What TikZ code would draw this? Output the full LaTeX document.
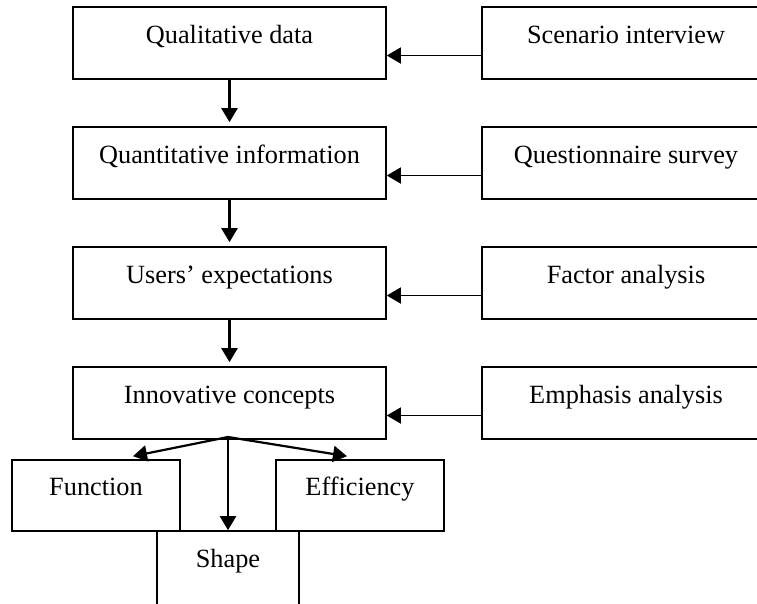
\documentclass[tikz,border=0pt]{standalone}
\usepackage{fontspec}
\setmainfont{Liberation Serif}
\usetikzlibrary{arrows.meta}
\tikzstyle{stage}=[rectangle, draw, line width=1.6pt, minimum width=313pt, minimum height=72pt, text height=10pt, text depth=10pt]
\tikzstyle{method}=[rectangle, draw, line width=1.6pt, minimum width=288pt, minimum height=72pt, text height=10pt, text depth=10pt]
\tikzstyle{aspect}=[rectangle, draw, line width=1.6pt, minimum width=168pt, minimum height=71pt, text height=10pt, text depth=10pt]
\tikzstyle{flow}=[line width=2.2pt, -{Triangle[length=14pt 0 0, width=16pt 0 0]}]

\begin{document}
\begin{tikzpicture}[x=1pt, y=-1pt, font=\fontsize{26.3}{30}\selectfont]
    \useasboundingbox (0,0) rectangle (757,603);
    \clip (0,0) rectangle (757,603);
    \node[stage] (qual)  at (229.5, 43)  {Qualitative data};
    \node[stage] (quant) at (229.5, 163) {Quantitative information};
    \node[stage] (exp)   at (229.5, 283) {Users' expectations};
    \node[stage] (inno)  at (229.5, 403) {Innovative concepts};
    \node[method] (scen)  at (626, 43)  {Scenario interview};
    \node[method] (quest) at (626, 163) {Questionnaire survey};
    \node[method] (fact)  at (626, 283) {Factor analysis};
    \node[method] (emph)  at (626, 403) {Emphasis analysis};
    \node[aspect] (func)  at (96, 495.5)  {Function};
    \node[aspect] (eff)   at (360, 495.5) {Efficiency};
    % bottom edge falls outside the page
    \node[aspect, minimum width=142pt, minimum height=80pt, text depth=18pt] (shape) at (228, 571) {Shape};
    \coordinate (apex) at (228, 437);
    \draw[flow, shorten >=4pt] (qual)  -- (quant);
    \draw[flow, shorten >=4pt] (quant) -- (exp);
    \draw[flow, shorten >=4pt] (exp)   -- (inno);
    \draw[flow, line width=1.6pt] ([yshift=-12.5pt]scen.west)  -- ([yshift=-12.5pt]qual.east);
    \draw[flow, line width=1.6pt] ([yshift=-12.5pt]quest.west) -- ([yshift=-12.5pt]quant.east);
    \draw[flow, line width=1.6pt] ([yshift=-12.5pt]fact.west)  -- ([yshift=-12.5pt]exp.east);
    \draw[flow, line width=1.6pt] ([yshift=-12.5pt]emph.west)  -- ([yshift=-12.5pt]inno.east);
    \draw[flow] (apex) -- ([xshift=37pt, yshift=3pt]func.north);
    \draw[flow] (apex) -- ([xshift=-13pt, yshift=3pt]eff.north);
    \draw[flow] (apex) -- (shape.north);
\end{tikzpicture}
\end{document}
